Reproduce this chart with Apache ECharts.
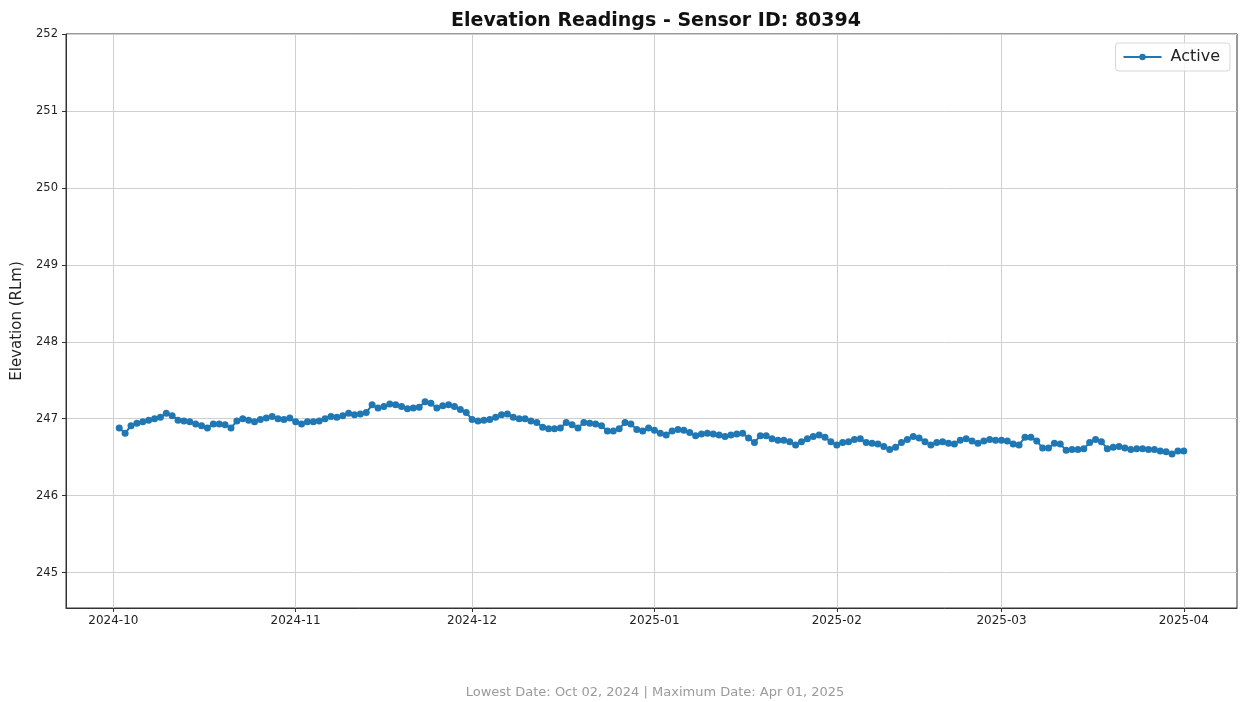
<!DOCTYPE html>
<html>
<head>
<meta charset="utf-8">
<script src="https://cdn.jsdelivr.net/npm/echarts@6/dist/echarts.min.js"></script>
<style>
html,body{margin:0;padding:0;background:#fff;}
#chart{width:1240px;height:702px;}
</style>
</head>
<body>
<div id="chart"></div>
<script>
// ---- data ----
const chartTitle = 'Elevation Readings - Sensor ID: 80394';
const yAxisTitle = 'Elevation (RLm)';
const seriesName = 'Active';
const footerText = 'Lowest Date: Oct 02, 2024 | Maximum Date: Apr 01, 2025';
const firstDate = [2024, 9, 2];   // Oct 02, 2024 (daily readings)
const lastDate = [2025, 3, 1];    // Apr 01, 2025
const xTickLabels = ['2024-10', '2024-11', '2024-12', '2025-01', '2025-02', '2025-03', '2025-04'];
const yTickLabels = [245, 246, 247, 248, 249, 250, 251, 252];
const elevations = [
  246.88, 246.81, 246.91, 246.94, 246.96, 246.98, 247.00, 247.02, 247.07, 247.04,
  246.98, 246.97, 246.96, 246.93, 246.91, 246.88, 246.93, 246.93, 246.92, 246.88,
  246.97, 247.00, 246.98, 246.96, 246.99, 247.01, 247.03, 247.00, 246.99, 247.01,
  246.96, 246.93, 246.96, 246.96, 246.97, 247.00, 247.03, 247.02, 247.04, 247.07,
  247.05, 247.06, 247.08, 247.18, 247.14, 247.16, 247.19, 247.18, 247.16, 247.13,
  247.14, 247.15, 247.22, 247.20, 247.14, 247.17, 247.18, 247.16, 247.12, 247.08,
  246.99, 246.97, 246.98, 246.99, 247.02, 247.05, 247.06, 247.02, 247.00, 247.00,
  246.97, 246.95, 246.89, 246.87, 246.87, 246.88, 246.95, 246.92, 246.88, 246.95,
  246.94, 246.93, 246.91, 246.84, 246.84, 246.87, 246.95, 246.93, 246.86, 246.84,
  246.88, 246.85, 246.81, 246.79, 246.84, 246.86, 246.85, 246.82, 246.78, 246.80,
  246.81, 246.80, 246.79, 246.77, 246.79, 246.80, 246.81, 246.75, 246.69, 246.78,
  246.78, 246.74, 246.72, 246.72, 246.70, 246.66, 246.70, 246.74, 246.77, 246.79,
  246.76, 246.70, 246.66, 246.69, 246.70, 246.73, 246.74, 246.69, 246.68, 246.67,
  246.64, 246.60, 246.63, 246.69, 246.73, 246.77, 246.75, 246.70, 246.66, 246.69,
  246.70, 246.68, 246.67, 246.72, 246.74, 246.71, 246.68, 246.71, 246.73, 246.72,
  246.72, 246.71, 246.67, 246.66, 246.76, 246.76, 246.71, 246.62, 246.62, 246.68,
  246.67, 246.59, 246.60, 246.60, 246.61, 246.69, 246.73, 246.70, 246.61, 246.63,
  246.64, 246.62, 246.60, 246.61, 246.61, 246.60, 246.60, 246.58, 246.57, 246.54,
  246.58, 246.58
];

// ---- build ----
const t0 = new Date(firstDate[0], firstDate[1], firstDate[2]).getTime();
const tEnd = new Date(lastDate[0], lastDate[1], lastDate[2]).getTime();
const points = elevations.map((v, i) => {
  const d = new Date(firstDate[0], firstDate[1], firstDate[2] + i);
  return [d.getTime(), v];
});
const span = tEnd - t0;
const xMin = t0 - span * 0.05;
const xMax = tEnd + span * 0.05;
const xTickValues = xTickLabels.map(s => {
  const [y, m] = s.split('-').map(Number);
  return new Date(y, m - 1, 1).getTime();
});
const minVal = Math.min(...elevations);
const yMin = +(minVal - 2).toFixed(2);
const yMax = yTickLabels[yTickLabels.length - 1];

const chart = echarts.init(document.getElementById('chart'), null, {renderer: 'canvas'});
const FONT = 'DejaVu Sans';
chart.setOption({
  animation: false,
  backgroundColor: '#ffffff',
  title: [
    {
      text: chartTitle,
      left: 651, top: 7, textAlign: 'center',
      textStyle: {fontFamily: FONT, fontSize: 19, fontWeight: 'bold', color: '#111'}
    },
    {
      text: footerText,
      left: 650, top: 681, textAlign: 'center',
      textStyle: {fontFamily: FONT, fontSize: 13, fontWeight: 'normal', color: '#9a9a9a'}
    }
  ],
  legend: {
    data: [seriesName],
    right: 10, top: 43,
    itemWidth: 38, itemHeight: 8, itemGap: 10,
    padding: [6, 10, 6, 7],
    borderColor: '#d6d6d6', borderWidth: 1, borderRadius: 3,
    backgroundColor: 'rgba(255,255,255,0.8)',
    textStyle: {fontFamily: FONT, fontSize: 16, color: '#222', padding: [0, 0, 0, 4]}
  },
  grid: {
    left: 66, right: 3, top: 34, bottom: 94,
    show: true, borderColor: '#333', borderWidth: 1
  },
  xAxis: {
    type: 'value',
    min: xMin, max: xMax,
    axisLine: {show: true, lineStyle: {color: '#333', width: 1}},
    axisTick: {show: true, customValues: xTickValues, length: 4, lineStyle: {color: '#333'}},
    axisLabel: {
      customValues: xTickValues,
      fontFamily: FONT, fontSize: 12, color: '#222', margin: 7,
      formatter: (val) => {
        const d = new Date(val);
        return d.getFullYear() + '-' + String(d.getMonth() + 1).padStart(2, '0');
      }
    },
    splitLine: {show: true, lineStyle: {color: '#cfcfcf', width: 1}}
  },
  yAxis: {
    type: 'value',
    min: yMin, max: yMax,
    name: yAxisTitle,
    nameLocation: 'middle', nameGap: 41,
    nameTextStyle: {fontFamily: FONT, fontSize: 15, color: '#222'},
    axisLine: {show: true, lineStyle: {color: '#333', width: 1}},
    axisTick: {show: true, customValues: yTickLabels, length: 4, lineStyle: {color: '#333'}},
    axisLabel: {
      customValues: yTickLabels,
      fontFamily: FONT, fontSize: 11.5, color: '#222', margin: 8,
      formatter: (v) => String(Math.round(v))
    },
    splitLine: {show: true, lineStyle: {color: '#cfcfcf', width: 1}}
  },
  series: [{
    name: seriesName,
    type: 'line',
    data: points,
    symbol: 'circle',
    symbolSize: 7,
    showSymbol: true,
    showAllSymbol: true,
    itemStyle: {color: '#1f77b4', borderWidth: 0},
    lineStyle: {color: '#1f77b4', width: 2}
  }]
});
</script>
</body>
</html>
